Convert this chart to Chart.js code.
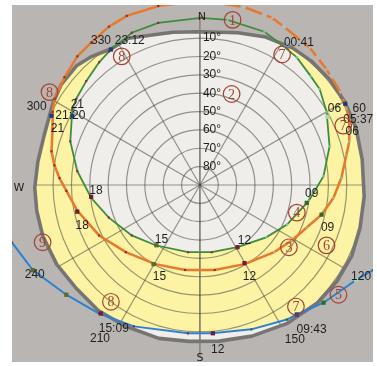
<!DOCTYPE html>
<html>
<head>
<meta charset="utf-8">
<script src="https://cdn.jsdelivr.net/npm/chart.js@4.4.1/dist/chart.umd.min.js"></script>
<style>
  html, body { margin: 0; padding: 0; background: #ffffff; }
  canvas { display: block; }
</style>
</head>
<body>
<canvas id="sunpath" width="377" height="366"></canvas>
<script>
// ---- sky grid ----
const altitudeRings = [0, 10, 20, 30, 40, 50, 60, 70, 80];
const altitudeTicks = ['10°', '20°', '30°', '40°', '50°', '60°', '70°', '80°'];
const azimuthSpokes = [0, 30, 60, 90, 120, 150, 180, 210, 240, 270, 300, 330];

// ---- terrain horizon profile [azimuth°, altitude°] ----
const horizon = [
  [0, 6.5], [14, 4.5], [24, 1.8], [31, 0.8], [34, -0.1], [42, -0.8], [51, -1.1], [60, -1.0],
  [70, -0.5], [81, 0.5], [94, 0.3], [105, -0.3], [115, -1.3], [125, -1.2], [135, -0.7],
  [148, 0.9], [161, 2.9], [173, 4.3], [184, 4.6], [195, 3.5], [208, 3.0], [219, 2.0],
  [230, 2.2], [241, 0.8], [252, 0], [261, 0], [269, 0], [278, 0.8], [288, 0.9], [299, -1.6],
  [306, -3.3], [314, -3.5], [320, -1.5], [327, 1.5], [334, 1.0], [341, 3.9], [350, 5.5]
];

// ---- sun paths [azimuth°, altitude°] ----
const summerPath = [
  [0.3, -1.1], [9.5, -1.2], [22.8, -0.6], [31.3, 1.8], [37.2, 2.7], [45.5, 5.4], [51.3, 6.4],
  [60.0, 10.3], [73.4, 16.3], [85.9, 22.5], [98.3, 30.1], [114.4, 37.9], [128.3, 44.0],
  [148.9, 50.4], [170, 52.8], [190, 52.8], [216.4, 49.2], [233.5, 43.8], [250.3, 37.3],
  [263.3, 30.3], [276.4, 22.8], [288.6, 15.5], [300.8, 9.1], [304.8, 7.9], [312.4, 6.1],
  [320.6, 3.5], [325.7, 2.0], [335.9, -0.9], [345.6, -1.2], [360.3, -1.1]
];
const springPathNight = [
  [0, -10.5], [14.0, -9.9], [23.4, -9.2], [28.0, -7.6], [38.6, -5.8], [47.6, -3.4], [56.5, -1.8], [62.5, 0.1]
];
const springPath = [
  [62.5, 0.1], [66.1, 1.0], [73.8, 5.3], [78.5, 8.6], [87.2, 12.9], [95.5, 16.9], [103.7, 21.8],
  [111.7, 27.4], [121.1, 31.5], [132.2, 35.5], [150.6, 40.5], [170.1, 43.0], [189.9, 43.0],
  [209.4, 40.5], [227.8, 35.5], [243.4, 28.6], [258.2, 21.7], [267.5, 17.2], [272.8, 13.4],
  [277.7, 10.0], [282.8, 7.1], [290.9, 4.1], [296.4, 0.4], [300.6, -2.0], [308.5, -4.3],
  [316.4, -6.8], [322.6, -7.6], [330.1, -9.5], [336.6, -10.4], [346.9, -10.1], [360, -10.5]
];
const winterPath = [
  [112, -19], [116.2, -15.1], [121.3, -9.6], [133.6, -3.0], [143.2, 1.9], [147.1, 2.7],
  [160.4, 6.5], [175.4, 8.9], [184.6, 8.9], [205, 5.0], [218.1, 1.0], [230.6, -4.2],
  [243.0, -12.2], [253.0, -17.1], [257, -20]
];

// ---- hour marks on each path [azimuth°, altitude°] ----
const summerMarks = [[61.9, 11.2], [99.5, 31.0], [148.9, 50.4], [215.8, 49.5], [263.8, 30.4], [298.5, 10.9], [326.7, 1.7], [31.8, 0]];
const springMarks = [[60.8, -0.7], [70.3, 3.6], [103.7, 21.8], [150.3, 41.0], [210.4, 40.0], [257.7, 21.6], [295.0, 0.8]];
const winterMarks = [[121.3, -9.6], [133.6, -3.0], [143.2, 1.9], [175.0, 8.9], [217.6, 1.6], [230.6, -4.2], [243.0, -12.2]];

// ---- annotations: [text, azimuth°, altitude°] ----
const timeNotes = [
  ['23:12', 334.1, 2.5], ['330', 325.6, -5.4], ['300', 295.6, -8.6], ['21', 303.2, 10.2],
  ['21:20', 298.1, 10.0], ['21', 291.6, 6.5], ['18', 266.7, 33.3], ['18', 251.0, 22.2],
  ['15', 215.3, 53.7], ['15', 203.8, 35.3], ['15:09', 211, -1.1], ['210', 213.1, -9.7],
  ['240', 241.4, -12.5], ['12', 141.2, 51.3], ['12', 151.7, 33.1], ['12', 173.8, 0],
  ['09', 94.6, 28.9], ['09', 108.4, 16.7], ['09:43', 142.3, -9.5], ['150', 148.4, -8.7],
  ['120', 119.7, -11.1], ['06', 60.5, 5.8], ['60', 64.4, -6.2], ['05:37', 67.6, -3.3],
  ['06', 70.7, 2.1], ['00:41', 34.8, -4.5]
];
const compassNotes = [['N', 0.7, -1.6], ['S', 180, -4.3], ['W', 269, -8.6]];
const zoneMarks = [
  [1, 11.2, -1.7], [2, 19.2, 37.5], [7, 32.2, 6.0], [8, 328.7, 8.0], [8, 301.7, -6.3],
  [7, 67.5, 5.5], [4, 105.9, 35.1], [3, 125, 30.8], [6, 115.5, 13.6], [5, 128.4, -6.3],
  [7, 141.7, 5.6], [9, 250, -1.2], [8, 217.3, 10.0]
];

// azimuth/altitude -> plane (zenith distance, north up, east right)
function project(az, alt) {
  const z = 90 - alt, a = az * Math.PI / 180;
  return { x: z * Math.sin(a), y: z * Math.cos(a) };
}
const toPoints = list => list.map(([az, alt]) => Object.assign(project(az, alt), { az }));

const COLORS = {
  frame: '#ffffff', terrain: '#b9b5b2', sky: '#efeeeb', band: '#fcf3a5',
  grid: 'rgba(70,70,60,0.55)', ring: '#777573', text: '#1e1e1e', zone: '#a8402f',
  summer: '#3f8c3c', spring: '#e8792c', winter: '#2f80d4'
};

const backdrop = {
  id: 'backdrop',
  beforeDatasetsDraw(chart) {
    const { ctx, chartArea: a, scales: { x: xs, y: ys } } = chart;
    const P = (az, alt) => { const q = project(az, alt); return [xs.getPixelForValue(q.x), ys.getPixelForValue(q.y)]; };
    const R = zen => xs.getPixelForValue(zen) - xs.getPixelForValue(0);
    const cx = xs.getPixelForValue(0), cy = ys.getPixelForValue(0);
    const trace = (list, close) => {
      ctx.beginPath();
      list.forEach(([az, alt], i) => { const [x, y] = P(az, alt); i ? ctx.lineTo(x, y) : ctx.moveTo(x, y); });
      if (close) ctx.closePath();
    };
    ctx.save();
    ctx.fillStyle = COLORS.frame;
    ctx.fillRect(0, 0, chart.width, chart.height);
    ctx.fillStyle = COLORS.terrain;
    ctx.fillRect(a.left, a.top, a.right - a.left, a.bottom - a.top);

    // open sky above the terrain horizon
    trace(horizon, true);
    ctx.save();
    ctx.clip();
    ctx.fillStyle = COLORS.band;
    ctx.fillRect(a.left, a.top, a.right - a.left, a.bottom - a.top);
    ctx.fillStyle = COLORS.sky;
    trace(summerPath, true);
    ctx.fill();
    trace(winterPath, false);
    ctx.lineTo(-50, chart.height + 50);
    ctx.lineTo(chart.width + 50, chart.height + 50);
    ctx.closePath();
    ctx.fill();

    ctx.strokeStyle = COLORS.grid;
    ctx.lineWidth = 1.2;
    altitudeRings.forEach(alt => { ctx.beginPath(); ctx.arc(cx, cy, R(90 - alt), 0, Math.PI * 2); ctx.stroke(); });
    azimuthSpokes.forEach(az => {
      const [x, y] = P(az, -12);
      ctx.beginPath(); ctx.moveTo(cx, cy); ctx.lineTo(x, y); ctx.stroke();
    });
    ctx.restore();

    // meridian runs past the horizon to the N and S marks
    ctx.strokeStyle = COLORS.grid;
    ctx.lineWidth = 1.2;
    ctx.beginPath();
    const [nx, ny] = P(0, -1.0), [sx, sy] = P(180, -3.6);
    ctx.moveTo(nx, ny); ctx.lineTo(sx, sy); ctx.stroke();

    ctx.strokeStyle = COLORS.ring;
    ctx.lineWidth = 3.6;
    ctx.lineJoin = 'round';
    trace(horizon, true);
    ctx.stroke();
    ctx.restore();
  },
  afterDatasetsDraw(chart) {
    const { ctx, scales: { x: xs, y: ys } } = chart;
    const P = (az, alt) => { const q = project(az, alt); return [xs.getPixelForValue(q.x), ys.getPixelForValue(q.y)]; };
    ctx.save();
    ctx.fillStyle = COLORS.text;
    ctx.textBaseline = 'middle';

    ctx.font = '12px "Liberation Sans", Arial, sans-serif';
    ctx.textAlign = 'left';
    altitudeTicks.forEach((t, i) => { const [x, y] = P(0, altitudeRings[i + 1]); ctx.fillText(t, x + 3, y); });

    ctx.textAlign = 'center';
    timeNotes.forEach(([t, az, alt]) => { const [x, y] = P(az, alt); ctx.fillText(t, x, y); });

    ctx.font = '11px "DejaVu Sans", sans-serif';
    compassNotes.forEach(([t, az, alt]) => { const [x, y] = P(az, alt); ctx.fillText(t, x, y); });

    ctx.strokeStyle = COLORS.zone;
    ctx.fillStyle = COLORS.zone;
    ctx.lineWidth = 1.2;
    ctx.font = '14px "Liberation Serif", serif';
    zoneMarks.forEach(([n, az, alt]) => {
      const [x, y] = P(az, alt);
      ctx.beginPath(); ctx.arc(x, y, 8.3, 0, Math.PI * 2); ctx.stroke();
      ctx.fillText(String(n), x, y + 1);
    });
    ctx.restore();
  }
};

const markDataset = (list, colors) => ({
  data: toPoints(list), showLine: false, pointStyle: 'rect',
  pointRadius: 3, pointBorderWidth: 0, pointBackgroundColor: colors, clip: 0
});
const pathDataset = (list, color, width, dash, dotColor) => ({
  data: toPoints(list), showLine: true, borderColor: color, borderWidth: width,
  borderDash: dash, tension: 0, fill: false, pointStyle: 'rect', pointRadius: 1.5,
  pointBorderWidth: 0, pointBackgroundColor: dotColor, clip: 0
});
const hourDot = ctx => (ctx.raw && ctx.raw.az < 170 ? '#8fc49c' : '#86303a');

new Chart(document.getElementById('sunpath'), {
  type: 'scatter',
  data: {
    datasets: [
      markDataset(summerMarks, ['#a6d8ae', '#2f6b2f', '#6b1f3a', '#5b6b2a', '#6b1f2a', '#1f3b7a', '#1f3b7a', '#7fb4e0']),
      markDataset(springMarks, ['#1f3b7a', '#a6d8ae', '#2f6b2f', '#6b1f3a', '#5b6b2a', '#6b1f2a', '#1f3b7a']),
      markDataset(winterMarks, ['#a6d8ae', '#2f6b2f', '#1f3b7a', '#6b1f3a', '#7a1f2a', '#5b6b2a', '#5b6b2a']),
      pathDataset(summerPath, COLORS.summer, 1.8, [], hourDot),
      pathDataset(springPath, COLORS.spring, 2.5, [], hourDot),
      pathDataset(springPathNight, COLORS.spring, 2.5, [18, 5], '#9ccbe6'),
      pathDataset(winterPath, COLORS.winter, 2, [], ctx => (ctx.raw && ctx.raw.az < 170 ? '#2f6b2f' : '#86303a'))
    ]
  },
  options: {
    responsive: false,
    animation: false,
    devicePixelRatio: 1,
    events: [],
    layout: { padding: { left: 12, top: 5, right: 0, bottom: 0 } },
    plugins: { legend: { display: false }, tooltip: { enabled: false } },
    scales: {
      x: { type: 'linear', display: false, min: -190 / 1.856, max: 175 / 1.856 },
      y: { type: 'linear', display: false, min: -179 / 1.856, max: 182 / 1.856 }
    }
  },
  plugins: [backdrop]
});
</script>
</body>
</html>
